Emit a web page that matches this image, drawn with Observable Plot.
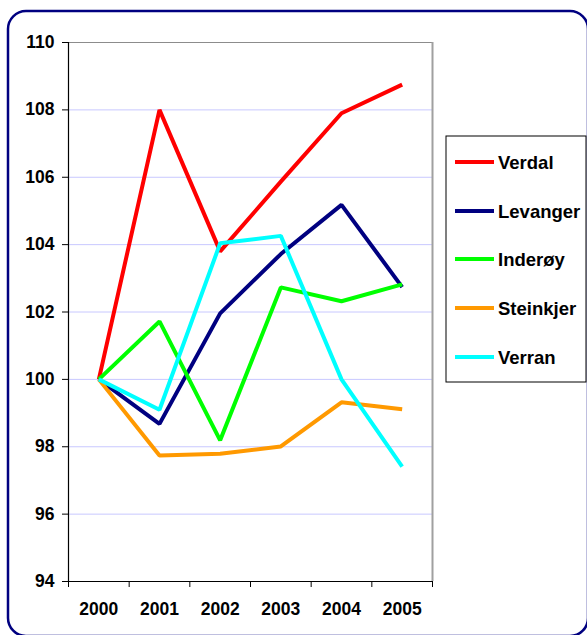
<!DOCTYPE html>
<html>
<head>
<meta charset="utf-8">
<script src="https://cdn.jsdelivr.net/npm/d3@7"></script>
<script src="https://cdn.jsdelivr.net/npm/@observablehq/plot@0.6"></script>
<style>
  html, body { margin: 0; padding: 0; background: #fff; }
  #chart { position: relative; width: 587px; height: 635px; overflow: hidden; }
</style>
</head>
<body>
<div id="chart"></div>
<script>
const years = [2000, 2001, 2002, 2003, 2004, 2005];
const seriesNames = ["Verdal", "Levanger", "Inderøy", "Steinkjer", "Verran"];
const colors = ["#ff0000", "#000080", "#00ff00", "#ff9900", "#00ffff"];
const verdal    = [100, 108.0, 103.8, 105.87, 107.9, 108.75];
const levanger  = [100, 98.68, 101.96, 103.72, 105.18, 102.74];
const inderoy   = [100, 101.72, 98.19, 102.73, 102.32, 102.82];
const steinkjer = [100, 97.74, 97.79, 98.01, 99.32, 99.11];
const verran    = [100, 99.10, 104.04, 104.26, 100.0, 97.41];
const yTicks = [94, 96, 98, 100, 102, 104, 106, 108, 110];

const valueArrays = [verdal, levanger, inderoy, steinkjer, verran];
const data = [];
seriesNames.forEach((name, i) => {
  years.forEach((yr, j) => data.push({series: name, year: yr, value: valueArrays[i][j]}));
});
const bounds = [years[0] - 0.5, ...years.map(y => y + 0.5)];
const font = "'Liberation Sans', Arial, Helvetica, sans-serif";

const svg = Plot.plot({
  width: 587,
  height: 635,
  marginLeft: 68,
  marginRight: 155,
  marginTop: 42,
  marginBottom: 54,
  style: {fontFamily: font, fontSize: "17px", fontWeight: "bold", background: "#fff", color: "#000", overflow: "visible"},
  x: {type: "linear", domain: [bounds[0], bounds[bounds.length - 1]], axis: null, label: null},
  y: {type: "linear", domain: [94, 110], axis: null, label: null},
  color: {domain: seriesNames, range: colors},
  marks: [
    Plot.ruleY(yTicks.slice(1, -1), {stroke: "#c8c8ff", strokeWidth: 1}),
    Plot.ruleY([110], {stroke: "#8c8c8c", strokeWidth: 1}),
    Plot.ruleX([bounds[bounds.length - 1]], {stroke: "#a0a0a0", strokeWidth: 2}),
    Plot.axisY({ticks: yTicks, label: null, tickSize: 6, tickPadding: 8, tickFormat: d => String(d), fontSize: 17.5, fontWeight: "bold", stroke: "#000"}),
    Plot.axisX({ticks: bounds, label: null, tickSize: 6, tickFormat: () => "", stroke: "#000"}),
    Plot.axisX({ticks: years, label: null, tickSize: 0, tickPadding: 21, tickFormat: d => String(d), fontSize: 17.5, fontWeight: "bold"}),
    Plot.ruleX([bounds[0]], {stroke: "#000", strokeWidth: 1.2}),
    Plot.ruleY([94], {stroke: "#000", strokeWidth: 1.2}),
    Plot.line(data, {x: "year", y: "value", z: "series", stroke: "series", strokeWidth: 4, strokeLinejoin: "miter", strokeLinecap: "butt"})
  ]
});

const s = d3.select(svg);
// outer rounded border
s.append("rect")
  .attr("x", 8).attr("y", 11).attr("width", 580).attr("height", 625)
  .attr("rx", 18).attr("ry", 18)
  .attr("fill", "none").attr("stroke", "#000080").attr("stroke-width", 2.5);

// legend
const lg = s.append("g").attr("text-anchor", "start");
lg.append("rect")
  .attr("x", 446).attr("y", 136).attr("width", 140).attr("height", 246)
  .attr("fill", "#fff").attr("stroke", "#000").attr("stroke-width", 1);
const ly = [162, 211, 259, 308, 357];
seriesNames.forEach((name, i) => {
  lg.append("line")
    .attr("x1", 455).attr("x2", 494).attr("y1", ly[i]).attr("y2", ly[i])
    .attr("stroke", colors[i]).attr("stroke-width", 4);
  lg.append("text")
    .attr("x", 498).attr("y", ly[i]).attr("dy", "0.36em")
    .attr("text-anchor", "start")
    .attr("font-family", font).attr("font-size", 18.5).attr("font-weight", "bold")
    .attr("fill", "#000").text(name);
});

document.getElementById("chart").appendChild(svg);
</script>
</body>
</html>
